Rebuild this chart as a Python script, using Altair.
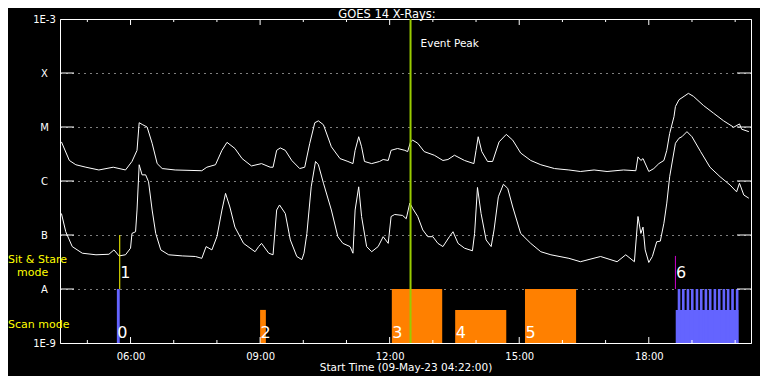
import altair as alt
import pandas as pd

DAY = "2023-05-09T"

# ---- GOES 14 long channel (1-8 A), W/m^2
long_times = ["04:24","04:35","04:44","04:58","05:16","05:36","05:53","06:02","06:09","06:12",
              "06:17","06:23","06:30","06:37","06:44","07:02","07:39","07:46","07:58","08:07",
              "08:14","08:25","08:35","08:48","09:02","09:14","09:18","09:23","09:28","09:35",
              "09:44","09:55","10:02","10:09","10:16","10:21","10:28","10:39","10:51","11:02",
              "11:09","11:12","11:17","11:21","11:25","11:35","11:46","11:51","11:58","12:02",
              "12:11","12:21","12:25","12:29","12:32","12:39","12:48","13:02","13:14","13:21",
              "13:30","13:44","13:57","14:00","14:03","14:08","14:16","14:23","14:32","14:42",
              "14:51","15:02","15:16","15:30","15:49","16:09","16:25","16:44","17:02","17:25",
              "17:42","17:45","17:49","17:52","18:00","18:07","18:14","18:21","18:25","18:29",
              "18:35","18:37","18:42","18:49","18:55","19:02","19:16","19:30","19:44","19:58",
              "20:06","20:09","20:19"]
long_flux = [5.3e-6,2.4e-6,2.0e-6,1.8e-6,1.6e-6,1.8e-6,1.6e-6,2.3e-6,3.7e-6,1.2e-5,
             1.1e-5,1.0e-5,5.0e-6,2.1e-6,1.7e-6,1.6e-6,1.55e-6,1.8e-6,2.0e-6,3.7e-6,
             5.2e-6,4.0e-6,2.6e-6,1.9e-6,2.1e-6,1.8e-6,1.8e-6,3.7e-6,4.1e-6,3.7e-6,
             2.4e-6,1.7e-6,1.8e-6,5.0e-6,1.2e-5,1.3e-5,1.1e-5,4.3e-6,2.6e-6,2.3e-6,
             2.1e-6,3.7e-6,6.6e-6,4.3e-6,2.3e-6,2.1e-6,2.3e-6,2.5e-6,2.4e-6,3.7e-6,
             4.0e-6,3.7e-6,3.5e-6,5.3e-6,5.7e-6,5.0e-6,3.5e-6,3.0e-6,2.4e-6,2.5e-6,
             3.0e-6,2.4e-6,2.1e-6,3.7e-6,6.6e-6,3.5e-6,2.3e-6,2.3e-6,5.3e-6,7.3e-6,
             5.7e-6,3.3e-6,2.4e-6,2.0e-6,1.7e-6,1.6e-6,1.5e-6,1.6e-6,1.5e-6,1.6e-6,
             1.55e-6,2.8e-6,2.4e-6,2.6e-6,1.5e-6,1.7e-6,2.1e-6,2.4e-6,3.7e-6,7.6e-6,
             1.55e-5,2.4e-5,3.2e-5,3.7e-5,4.2e-5,3.7e-5,2.5e-5,1.8e-5,1.3e-5,9.9e-6,
             1.14e-5,9.1e-6,8.2e-6]

# ---- GOES 14 short channel (0.5-4 A), W/m^2
short_times = ["04:24","04:30","04:39","04:53","05:12","05:30","05:37","05:44","05:53","06:00",
               "06:02","06:07","06:09","06:12","06:16","06:21","06:25","06:30","06:35","06:42",
               "06:53","07:12","07:30","07:39","07:45","07:53","08:00","08:07","08:12","08:18",
               "08:25","08:37","08:53","08:58","09:02","09:12","09:18","09:23","09:27","09:35",
               "09:42","09:51","09:58","10:01","10:05","10:11","10:17","10:21","10:28","10:39",
               "10:48","10:55","11:05","11:09","11:12","11:17","11:21","11:28","11:35","11:44",
               "11:51","11:58","12:02","12:07","12:18","12:23","12:28","12:32","12:39","12:46",
               "12:53","13:00","13:07","13:14","13:23","13:28","13:35","13:44","13:55","13:58",
               "14:02","14:07","14:14","14:21","14:25","14:31","14:38","14:44","14:51","15:02",
               "15:16","15:30","15:44","16:09","16:25","16:53","17:16","17:28","17:40","17:45",
               "17:49","17:52","17:55","18:00","18:05","18:11","18:16","18:21","18:25","18:29",
               "18:37","18:42","18:46","18:53","19:00","19:12","19:25","19:39","19:53","20:02",
               "20:06","20:12","20:19"]
short_flux = [2.5e-7,1.15e-7,6.1e-8,4.6e-8,4.3e-8,4.4e-8,5.3e-8,4.1e-8,4.3e-8,5.7e-8,
              1.07e-7,1.15e-7,2.9e-7,2.0e-6,1.3e-6,1.3e-6,9.7e-7,2.9e-7,1.07e-7,5.3e-8,
              4.3e-8,4.1e-8,4.0e-8,3.7e-8,6.1e-8,5.3e-8,9.3e-8,2.9e-7,5.9e-7,3.3e-7,
              1.4e-7,7.0e-8,4.9e-8,6.1e-8,7.0e-8,4.6e-8,4.3e-8,2.9e-7,3.6e-7,2.5e-7,
              8.1e-8,4.0e-8,3.5e-8,4.6e-8,1.07e-7,7.8e-7,2.3e-6,2.0e-6,9.1e-7,2.9e-7,
              9.3e-8,7.0e-8,6.1e-8,4.6e-8,2.9e-7,7.8e-7,2.2e-7,6.1e-8,4.9e-8,6.1e-8,
              9.3e-8,7.0e-8,2.2e-7,2.4e-7,2.3e-7,2.0e-7,3.9e-7,3.1e-7,2.2e-7,1.24e-7,
              9.3e-8,9.3e-8,7.0e-8,6.1e-8,9.3e-8,1.15e-7,7.0e-8,5.7e-8,5.1e-8,1.07e-7,
              7.6e-7,2.5e-7,8.1e-8,6.1e-8,1.24e-7,5.1e-7,8.7e-7,7.3e-7,3.3e-7,1.07e-7,
              7.0e-8,4.9e-8,4.3e-8,3.7e-8,3.2e-8,4.0e-8,3.2e-8,4.3e-8,3.2e-8,2.2e-7,
              1.07e-7,1.4e-7,5.3e-8,3.1e-8,4.0e-8,7.5e-8,7.7e-8,1.65e-7,3.9e-7,1.2e-6,
              5.0e-6,6.2e-6,6.6e-6,8.2e-6,6.6e-6,3.5e-6,1.8e-6,1.2e-6,8.4e-7,6.3e-7,
              9.1e-7,5.5e-7,4.8e-7]

assert len(long_times) == len(long_flux)
assert len(short_times) == len(short_flux)

# ---- observation blocks (scan mode)
bar_start = ["05:41", "09:00", "12:03", "13:31", "15:08", "18:37:25"]
bar_end = ["05:45", "09:08", "13:13", "14:42", "16:19", "20:04:35"]
bar_top = [1e-8, 4.1e-9, 1e-8, 4.1e-9, 1e-8, 4.1e-9]
bar_type = ["raster", "scan", "scan", "scan", "scan", "raster"]

tooth_start = ["18:40:10", "18:46:05", "18:52:35", "18:58:35", "19:05:05", "19:11:00", "19:17:30",
               "19:23:30", "19:30:00", "19:36:00", "19:42:30", "19:48:25", "19:54:30", "20:00:55"]
tooth_end = ["18:43:50", "18:49:45", "18:56:15", "19:02:15", "19:08:45", "19:14:40", "19:21:10",
             "19:27:10", "19:33:40", "19:39:40", "19:46:10", "19:52:05", "19:58:10", "20:04:35"]
tooth_top = 1e-8

# ---- sit & stare markers
marker_time = ["05:45", "18:37"]
marker_low = [1e-8, 1e-8]
marker_high = [1e-7, 4.1e-8]
marker_id = ["1", "6"]

scan_label_text = ["0", "2", "3", "4", "5"]
scan_label_time = ["05:41", "09:00", "12:03", "13:31", "15:08"]

peak_time = "12:29"

y_ticks = [1e-9, 1e-8, 1e-7, 1e-6, 1e-5, 1e-4, 1e-3]
y_tick_labels = ["1E-9", "A", "B", "C", "M", "X", "1E-3"]
grid_levels = [1e-8, 1e-7, 1e-6, 1e-5, 1e-4]
major_hours = ["06:00", "09:00", "12:00", "15:00", "18:00"]
minor_hours = ["05:00", "07:00", "08:00", "10:00", "11:00", "13:00", "14:00",
               "16:00", "17:00", "19:00", "20:00"]

title_text = "GOES 14 X-Rays:"


def ts(hm):
    return DAY + (hm if len(hm) == 8 else hm + ":00")


FONT = "DejaVu Sans"

curves_df = pd.concat([
    pd.DataFrame({"time": [ts(t) for t in long_times], "flux": long_flux, "channel": "1-8 A"}),
    pd.DataFrame({"time": [ts(t) for t in short_times], "flux": short_flux, "channel": "0.5-4 A"}),
])
bars_df = pd.DataFrame({"time": [ts(t) for t in bar_start], "end": [ts(t) for t in bar_end],
                        "flux": bar_top, "bottom": 1e-9, "type": bar_type})
teeth_df = pd.DataFrame({"time": [ts(t) for t in tooth_start], "end": [ts(t) for t in tooth_end],
                         "flux": tooth_top, "bottom": 1e-9})
markers_df = pd.DataFrame({"time": [ts(t) for t in marker_time], "flux": marker_low,
                           "high": marker_high, "id": marker_id})
scan_labels_df = pd.DataFrame({"time": [ts(t) for t in scan_label_time], "text": scan_label_text})
peak_df = pd.DataFrame({"time": [ts(peak_time)], "text": ["Event Peak"]})
major_df = pd.DataFrame({"time": [ts(t) for t in major_hours]})
minor_df = pd.DataFrame({"time": [ts(t) for t in minor_hours]})
levels_df = pd.DataFrame({"flux": grid_levels})

label_expr = ""
for v, lab in zip(y_ticks[:-1], y_tick_labels[:-1]):
    label_expr += f"datum.value < {v * 3} ? '{lab}' : "
label_expr += f"'{y_tick_labels[-1]}'"

x_scale = alt.Scale(domain=[alt.DateTime(year=2023, month=5, date=9, hours=4, minutes=22),
                            alt.DateTime(year=2023, month=5, date=9, hours=20, minutes=22)])
y_scale = alt.Scale(type="log", domain=[1e-9, 1e-3], nice=False)

x_axis = alt.Axis(values=[alt.DateTime(year=2023, month=5, date=9, hours=h) for h in [6, 9, 12, 15, 18]],
                  format="%H:%M", ticks=False, domain=False, grid=False,
                  labelColor="white", labelFont=FONT, labelFontSize=10, labelPadding=8,
                  title="Start Time (09-May-23 04:22:00)", titleColor="white", titleFont=FONT,
                  titleFontSize=10.5, titleFontWeight="normal", titlePadding=1)
y_axis = alt.Axis(values=y_ticks, labelExpr=label_expr, ticks=False, domain=False,
                  grid=True, gridColor="white", gridDash=[1, 5], gridWidth=1, gridOpacity=1,
                  labelColor="white", labelFont=FONT, labelFontSize=10, labelAlign="center",
                  labelBaseline="middle", labelPadding=16, title=None)


def X(field):
    return alt.X(field, type="temporal", scale=x_scale, axis=x_axis)


def Y(field):
    return alt.Y(field, type="quantitative", scale=y_scale, axis=y_axis)


curves = alt.Chart(curves_df).mark_line(color="white", strokeWidth=1).encode(
    x=X("time"), y=Y("flux"), detail="channel:N",
)

bars = alt.Chart(bars_df).mark_rect().encode(
    x=X("time"), x2="end:T", y=Y("flux"), y2="bottom:Q",
    color=alt.Color("type:N", scale=alt.Scale(domain=["raster", "scan"], range=["#6464FF", "#FF8000"]),
                    legend=None),
)
teeth = alt.Chart(teeth_df).mark_rect(color="#6464FF").encode(
    x=X("time"), x2="end:T", y=Y("flux"), y2="bottom:Q",
)
markers = alt.Chart(markers_df).mark_rule(strokeWidth=1).encode(
    x=X("time"), y=Y("flux"), y2="high:Q",
    stroke=alt.Stroke("id:N", scale=alt.Scale(domain=["1", "6"], range=["#FFFF00", "#CC00CC"]), legend=None),
)
marker_labels = alt.Chart(markers_df).mark_text(
    color="white", font=FONT, fontSize=16, align="left", baseline="alphabetic", dx=0.5
).encode(x=X("time"), y=alt.value(259), text="id:N")
scan_labels = alt.Chart(scan_labels_df).mark_text(
    color="white", font=FONT, fontSize=16, align="left", baseline="alphabetic", dx=0.5
).encode(x=X("time"), y=alt.value(319), text="text:N")

peak_line = alt.Chart(peak_df).mark_rule(color="#99CC00", strokeWidth=2).encode(
    x=X("time"), y=alt.value(0), y2=alt.value(324))
peak_text = alt.Chart(peak_df).mark_text(
    color="white", font=FONT, fontSize=10.5, align="left", baseline="alphabetic", dx=10
).encode(x=X("time"), y=alt.value(28), text="text:N")

# inward axis ticks
bottom_major = alt.Chart(major_df).mark_rule(color="white").encode(
    x=X("time"), y=alt.value(324), y2=alt.value(318))
bottom_minor = alt.Chart(minor_df).mark_rule(color="white").encode(
    x=X("time"), y=alt.value(324), y2=alt.value(321))
top_major = alt.Chart(major_df).mark_rule(color="white").encode(
    x=X("time"), y=alt.value(0), y2=alt.value(6))
top_minor = alt.Chart(minor_df).mark_rule(color="white").encode(
    x=X("time"), y=alt.value(0), y2=alt.value(3))
left_ticks = alt.Chart(levels_df).mark_rule(color="white").encode(
    y=Y("flux"), x=alt.value(0), x2=alt.value(14))
right_ticks = alt.Chart(levels_df).mark_rule(color="white").encode(
    y=Y("flux"), x=alt.value(677), x2=alt.value(691))

one = pd.DataFrame({"a": [0]})
title_mark = alt.Chart(one).mark_text(text=title_text, color="white", font=FONT, fontSize=11.5,
                                      align="center", baseline="alphabetic").encode(
    x=alt.value(327), y=alt.value(-1.5))
sit_text = alt.Chart(one).mark_text(text="Sit & Stare", color="#FFFF00", font=FONT, fontSize=11,
                                    align="left", baseline="alphabetic").encode(
    x=alt.value(-52), y=alt.value(244))
mode_text = alt.Chart(one).mark_text(text="mode", color="#FFFF00", font=FONT, fontSize=11,
                                     align="left", baseline="alphabetic").encode(
    x=alt.value(-43), y=alt.value(257))
scan_text = alt.Chart(one).mark_text(text="Scan mode", color="#FFFF00", font=FONT, fontSize=11,
                                     align="left", baseline="alphabetic").encode(
    x=alt.value(-52), y=alt.value(309))

chart = alt.layer(
    curves, bars, teeth, markers, marker_labels, scan_labels,
    bottom_major, bottom_minor, top_major, top_minor, left_ticks, right_ticks,
    peak_line, peak_text, title_mark, sit_text, mode_text, scan_text,
).resolve_scale(
    color="independent", stroke="independent"
).properties(
    width=691, height=324,
    padding={"left": 52, "top": 11, "right": 9, "bottom": 33},
    autosize=alt.AutoSizeParams(type="none"),
).configure(background="black").configure_view(stroke="white", strokeWidth=1)

chart.save("out.html", embed_options={"renderer": "svg", "actions": False})
